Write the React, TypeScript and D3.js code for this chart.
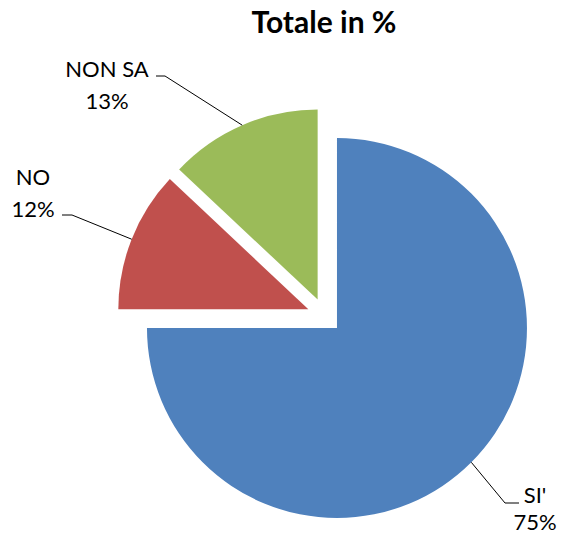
import React from 'react';
import * as d3 from 'd3';

const categories = ["SI'", 'NO', 'NON SA'];
const values = [75, 12, 13];
const colors = ['#4F81BD', '#C0504D', '#9BBB59'];

// label placement: elbow point of the leader, end of the short horizontal, text block centre
const labelLayout = [
  { elbow: [505, 503], end: [519, 503], text: [535, 503], gap: 27 },
  { elbow: [72, 215], end: [62, 215], text: [33, 185], gap: 32 },
  { elbow: [165, 76], end: [156, 76], text: [107, 77], gap: 32 },
];

const W = 561;
const H = 537;
const FONT = 'Lato, "Open Sans", sans-serif';

const App = () => {
  const cx = 324.6;
  const cy = 315.6;
  const radius = 190;
  const explode = 17.5;

  const pie = d3.pie<number>().sort(null).startAngle(0).endAngle(2 * Math.PI);
  const arcs = pie(values);
  const arc = d3.arc<d3.PieArcDatum<number>>().innerRadius(0).outerRadius(radius);
  const total = d3.sum(values);

  return (
    <svg width={W} height={H} style={{ position: 'absolute', left: 0, top: 0, background: '#fff' }}>
      <text x={324} y={33} textAnchor="middle" fontFamily={FONT} fontWeight="bold" fontSize={30} fill="#000">
        Totale in %
      </text>
      {arcs.map((a, i) => {
        const mid = (a.startAngle + a.endAngle) / 2;
        const ox = cx + Math.sin(mid) * explode;
        const oy = cy - Math.cos(mid) * explode;
        const sx = ox + Math.sin(mid) * radius;
        const sy = oy - Math.cos(mid) * radius;
        const lay = labelLayout[i];
        const pct = Math.round((values[i] / total) * 100) + '%';
        return (
          <g key={categories[i]}>
            <path d={arc(a) || ''} transform={`translate(${ox},${oy})`} fill={colors[i]} />
            <polyline
              points={`${sx},${sy} ${lay.elbow[0]},${lay.elbow[1]} ${lay.end[0]},${lay.end[1]}`}
              fill="none"
              stroke="#000"
              strokeWidth={1}
            />
            <text x={lay.text[0]} y={lay.text[1]} textAnchor="middle" fontFamily={FONT} fontSize={22} fill="#000">
              <tspan x={lay.text[0]}>{categories[i]}</tspan>
              <tspan x={lay.text[0]} dy={lay.gap}>{pct}</tspan>
            </text>
          </g>
        );
      })}
    </svg>
  );
};

export default App;
